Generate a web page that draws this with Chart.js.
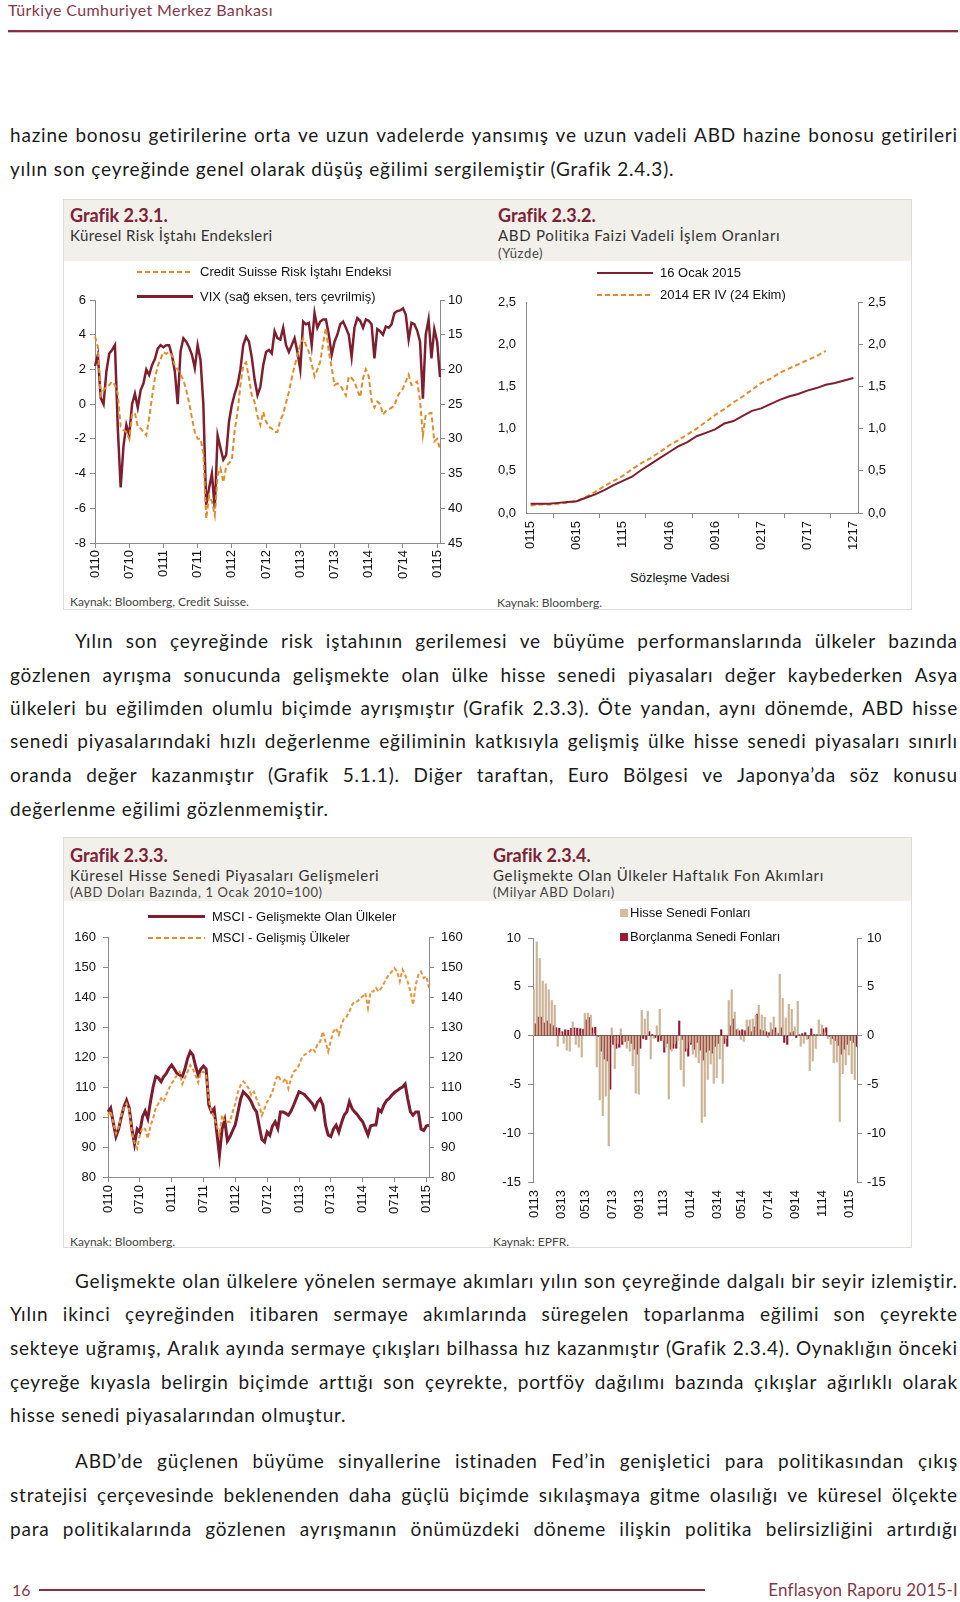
<!DOCTYPE html>
<html lang="tr">
<head>
<meta charset="utf-8">
<title>Enflasyon Raporu 2015-I - Sayfa 16</title>
<script src="https://cdn.jsdelivr.net/npm/chart.js@4.4.1/dist/chart.umd.min.js"></script>
<style>
  html, body { margin: 0; padding: 0; background: #fff; }
  #page { position: relative; width: 960px; height: 1602px; overflow: hidden; font-family: Lato, "Open Sans", sans-serif; color: #1b1b1b; }
  .txt { position: absolute; left: 10px; width: 948px; height: 24px; font-size: 19px; line-height: 24px; letter-spacing: 0.8px; white-space: nowrap; }
  .txt.indent { left: 75px; width: 883px; }
  .box { position: absolute; left: 63px; width: 849px; height: 411px; border: 1px solid #dedcd8; box-sizing: border-box; }
  .band { position: absolute; left: 0; top: 0; right: 0; height: 61px; background: #f2f0eb; }
  .gtitle { position: absolute; font-size: 18px; font-weight: 700; color: #7b2335; line-height: 22px; white-space: nowrap; }
  .gsub { position: absolute; font-size: 15px; letter-spacing: 0.7px; color: #333; line-height: 18px; white-space: nowrap; }
  .gunit { position: absolute; font-size: 13px; letter-spacing: 0.6px; color: #444; line-height: 16px; white-space: nowrap; }
  .src { position: absolute; font-size: 12px; color: #444; line-height: 14px; white-space: nowrap; }
  .leg { position: absolute; font-family: "Liberation Sans", Arial, sans-serif; font-size: 13px; color: #111; line-height: 16px; white-space: nowrap; }
  .sw { position: absolute; }
  .solid { height: 3px; background: #7d1f2f; }
  .dash { height: 2px; background: repeating-linear-gradient(90deg, #e38b2c 0 5px, transparent 5px 8px); }
  canvas { position: absolute; }
</style>
</head>
<body>
<div id="page">

  <div style="position:absolute;left:8px;top:1px;font-size:16px;line-height:18px;color:#83394a;letter-spacing:0.4px;">Türkiye Cumhuriyet Merkez Bankası</div>
  <div style="position:absolute;left:8px;top:30px;width:950px;height:2px;background:#8b2d40;"></div>
  <div style="position:absolute;left:8px;top:32px;width:950px;height:1px;background:#c9c2c4;"></div>

  <div class="txt" style="top:123px;">hazine bonosu getirilerine orta ve uzun vadelerde yansımış ve uzun vadeli ABD hazine bonosu getirileri</div>
  <div class="txt last" style="top:157px;">yılın son çeyreğinde genel olarak düşüş eğilimi sergilemiştir (Grafik 2.4.3).</div>

  <!-- Grafik 2.3.1 / 2.3.2 -->
  <div class="box" style="top:199px;"><div class="band"></div></div>
  <div class="gtitle" style="left:70px;top:204px;">Grafik 2.3.1.</div>
  <div class="gsub" style="left:70px;top:226px;letter-spacing:0.4px;">Küresel Risk İştahı Endeksleri</div>
  <div class="gtitle" style="left:498px;top:204px;">Grafik 2.3.2.</div>
  <div class="gsub" style="left:498px;top:226px;">ABD Politika Faizi Vadeli İşlem Oranları</div>
  <div class="gunit" style="left:498px;top:245px;">(Yüzde)</div>

  <canvas id="riskChart" width="417" height="325" style="left:63px;top:262px;"></canvas>
  <canvas id="futuresChart" width="430" height="300" style="left:482px;top:262px;"></canvas>

  <div class="sw dash" style="left:137px;top:271px;width:56px;"></div>
  <div class="leg" style="left:200px;top:264px;">Credit Suisse Risk İştahı Endeksi</div>
  <div class="sw solid" style="left:137px;top:295px;width:56px;"></div>
  <div class="leg" style="left:200px;top:289px;">VIX (sağ eksen, ters çevrilmiş)</div>

  <div class="sw solid" style="left:597px;top:272px;width:56px;height:2px;"></div>
  <div class="leg" style="left:660px;top:265px;">16 Ocak 2015</div>
  <div class="sw dash" style="left:597px;top:294px;width:56px;"></div>
  <div class="leg" style="left:660px;top:287px;">2014 ER IV (24 Ekim)</div>

  <div class="leg" style="left:630px;top:570px;">Sözleşme Vadesi</div>
  <div class="src" style="left:70px;top:595px;">Kaynak: Bloomberg, Credit Suisse.</div>
  <div class="src" style="left:497px;top:596px;">Kaynak: Bloomberg.</div>

  <div class="txt indent" style="top:629px;">Yılın son çeyreğinde risk iştahının gerilemesi ve büyüme performanslarında ülkeler bazında</div>
  <div class="txt" style="top:663px;">gözlenen ayrışma sonucunda gelişmekte olan ülke hisse senedi piyasaları değer kaybederken Asya</div>
  <div class="txt" style="top:696px;">ülkeleri bu eğilimden olumlu biçimde ayrışmıştır (Grafik 2.3.3). Öte yandan, aynı dönemde, ABD hisse</div>
  <div class="txt" style="top:729px;">senedi piyasalarındaki hızlı değerlenme eğiliminin katkısıyla gelişmiş ülke hisse senedi piyasaları sınırlı</div>
  <div class="txt" style="top:763px;">oranda değer kazanmıştır (Grafik 5.1.1). Diğer taraftan, Euro Bölgesi ve Japonya’da söz konusu</div>
  <div class="txt last" style="top:797px;">değerlenme eğilimi gözlenmemiştir.</div>

  <!-- Grafik 2.3.3 / 2.3.4 -->
  <div class="box" style="top:837px;"><div class="band" style="height:63px;"></div></div>
  <div class="gtitle" style="left:70px;top:844px;">Grafik 2.3.3.</div>
  <div class="gsub" style="left:70px;top:866px;">Küresel Hisse Senedi Piyasaları Gelişmeleri</div>
  <div class="gunit" style="left:70px;top:884px;">(ABD Doları Bazında, 1 Ocak 2010=100)</div>
  <div class="gtitle" style="left:493px;top:844px;">Grafik 2.3.4.</div>
  <div class="gsub" style="left:493px;top:866px;">Gelişmekte Olan Ülkeler Haftalık Fon Akımları</div>
  <div class="gunit" style="left:493px;top:884px;">(Milyar ABD Doları)</div>

  <canvas id="equityChart" width="417" height="320" style="left:63px;top:900px;"></canvas>
  <canvas id="flowChart" width="430" height="320" style="left:482px;top:900px;"></canvas>

  <div class="sw solid" style="left:148px;top:915px;width:57px;"></div>
  <div class="leg" style="left:212px;top:909px;">MSCI - Gelişmekte Olan Ülkeler</div>
  <div class="sw dash" style="left:148px;top:937px;width:57px;"></div>
  <div class="leg" style="left:212px;top:930px;">MSCI - Gelişmiş Ülkeler</div>

  <div class="sw" style="left:620px;top:909px;width:8px;height:8px;background:#d3bda2;"></div>
  <div class="leg" style="left:630px;top:905px;">Hisse Senedi Fonları</div>
  <div class="sw" style="left:620px;top:933px;width:8px;height:8px;background:#9a1d33;"></div>
  <div class="leg" style="left:630px;top:929px;">Borçlanma Senedi Fonları</div>

  <div class="src" style="left:70px;top:1235px;">Kaynak: Bloomberg.</div>
  <div class="src" style="left:493px;top:1235px;">Kaynak: EPFR.</div>

  <div class="txt indent" style="top:1269px;">Gelişmekte olan ülkelere yönelen sermaye akımları yılın son çeyreğinde dalgalı bir seyir izlemiştir.</div>
  <div class="txt" style="top:1302px;">Yılın ikinci çeyreğinden itibaren sermaye akımlarında süregelen toparlanma eğilimi son çeyrekte</div>
  <div class="txt" style="top:1336px;">sekteye uğramış, Aralık ayında sermaye çıkışları bilhassa hız kazanmıştır (Grafik 2.3.4). Oynaklığın önceki</div>
  <div class="txt" style="top:1370px;">çeyreğe kıyasla belirgin biçimde arttığı son çeyrekte, portföy dağılımı bazında çıkışlar ağırlıklı olarak</div>
  <div class="txt last" style="top:1403px;">hisse senedi piyasalarından olmuştur.</div>

  <div class="txt indent" style="top:1449px;">ABD’de güçlenen büyüme sinyallerine istinaden Fed’in genişletici para politikasından çıkış</div>
  <div class="txt" style="top:1483px;">stratejisi çerçevesinde beklenenden daha güçlü biçimde sıkılaşmaya gitme olasılığı ve küresel ölçekte</div>
  <div class="txt" style="top:1517px;">para politikalarında gözlenen ayrışmanın önümüzdeki döneme ilişkin politika belirsizliğini artırdığı</div>

  <div style="position:absolute;left:12px;top:1580px;font-size:16px;line-height:20px;color:#83394a;">16</div>
  <div style="position:absolute;left:39px;top:1589px;width:666px;height:2px;background:#8b2d40;"></div>
  <div style="position:absolute;right:2px;top:1580px;font-size:17px;line-height:20px;color:#83394a;letter-spacing:0.2px;">Enflasyon Raporu 2015-I</div>
</div>

<script>
// Grafik 2.3.1 - half-monthly points, Jan 2010 .. mid-Jan 2015
const riskTicks = ['0110', '0710', '0111', '0711', '0112', '0712', '0113', '0713', '0114', '0714', '0115'];
const csIndex = [
    3.9, 3.3, 0.5, 0.8, 1.0, 1.1, 1.3, 1.1, 0.6, -1.3, -1.5, -1.6, -2.0, -0.6, -0.5, -1.3, -1.4, -1.6, -1.8, -0.8, 0.4, 1.5, 2.2, 2.6,
    3.0, 2.9, 3.0, 2.8, 2.2, 2.0, 1.7, 1.4, 0.8, 0.1, -0.8, -1.6, -2.0, -2.0, -2.8, -6.6, -5.3, -5.6, -6.4, -4.1, -3.7, -4.5, -3.6, -3.4,
    -3.2, -1.5, -0.45, 1.1, 2.25, 2.4, 1.5, 0.5, 0.1, -0.7, -1.2, -0.45, -1.0, -1.3, -1.4, -1.6, -1.6, -0.9, -0.6, 0.1, 0.7, 1.5, 2.2, 2.8,
    3.4, 3.8, 3.4, 3.0, 2.3, 1.6, 2.0, 2.45, 3.5, 4.4, 3.0, 2.1, 1.1, 1.2, 1.1, 0.8, 0.5, 1.6, 1.5, 1.3, 0.8, 0.4, 1.5, 2.0,
    1.6, 0.2, -0.2, 0.15, 0.0, -0.6, -0.4, -0.3, -0.2, -0.1, 0.4, 0.7, 0.9, 1.3, 1.7, 1.1, 1.2, 1.3, 0.2, -1.8, -0.6, -0.55, -0.5, -2.15,
    -2.0, -2.6
];
const vixIndex = [
    19.5, 17.9, 24.1, 25, 20.3, 17.7, 17.2, 16.5, 28.5, 37, 31, 28, 29.5, 25, 23.5, 25.5, 23, 22, 20, 20.8, 19.4, 18.5, 17, 16.5,
    16.8, 16.5, 16.5, 18, 20.3, 25, 17.4, 15.5, 16, 16.8, 17.9, 19.8, 16.5, 18.6, 25, 39.5, 37.1, 35, 40, 29.5, 31.3, 33, 32.3, 27.5,
    25.1, 23.5, 22.2, 20, 16.5, 15.3, 16, 18.3, 21.5, 23.7, 22.5, 19.4, 17.5, 17.2, 17.7, 14.5, 15.5, 15.7, 14, 16.5, 17.5, 16.5, 15.5, 17.5,
    20, 13.1, 13.5, 13.3, 16.5, 11.9, 14, 13.1, 12.8, 12.8, 15, 17.9, 16, 15, 13.5, 13.1, 14, 15, 18.2, 14, 12.6, 13, 14, 12.8,
    13, 13.5, 18.4, 14.2, 14.5, 15, 13.8, 14, 13.5, 11.9, 11.6, 11.5, 11.2, 12.1, 15.7, 13.3, 13.5, 14.4, 16, 24.2, 15, 12.8, 18.4, 14.2,
    16, 21.1
];

// Grafik 2.3.2 - monthly contracts
const vadeLabels = ['0115', '0215', '0315', '0415', '0515', '0615', '0715', '0815', '0915', '1015', '1115', '1215',
    '0116', '0216', '0316', '0416', '0516', '0616', '0716', '0816', '0916', '1016', '1116', '1216',
    '0117', '0217', '0317', '0417', '0517', '0617', '0717', '0817', '0917', '1017', '1117', '1217'];
const ocak2015 = [0.11, 0.11, 0.11, 0.12, 0.13, 0.14, 0.18, 0.22, 0.27, 0.33, 0.38, 0.43, 0.51, 0.58, 0.65, 0.72, 0.79, 0.84,
    0.91, 0.95, 0.99, 1.06, 1.09, 1.15, 1.21, 1.24, 1.29, 1.34, 1.38, 1.41, 1.45, 1.48, 1.52, 1.54, 1.57, 1.60];
const erIV2014 = [0.09, 0.10, 0.10, 0.11, 0.12, 0.14, 0.19, 0.25, 0.32, 0.38, 0.44, 0.52, 0.59, 0.65, 0.72, 0.80, 0.86, 0.93,
    1.00, 1.08, 1.16, 1.23, 1.31, 1.38, 1.46, 1.54, 1.59, 1.66, 1.71, 1.76, 1.81, 1.86, 1.92, null, null, null];

// Grafik 2.3.3 - half-monthly, 1 Ocak 2010 = 100
const equityTicks = riskTicks;
const emIndex = [
    101.7, 103, 98, 93.5, 96, 100, 103.4, 105.6, 103, 96, 91, 96, 95, 100, 102, 99.5, 105, 110, 113.5, 113, 111.8, 113.5, 114.5, 116.2,
    117.3, 116, 114.5, 114, 113.5, 116, 119.5, 121.8, 120.7, 117, 114, 116, 117, 116, 104, 101.7, 102.8, 95, 87.2, 96, 99, 92, 93.5, 95.5,
    97.5, 101.7, 106, 108.4, 107.5, 106.5, 105.1, 103, 101.7, 97, 92.5, 91.7, 95, 93.9, 97, 98.4, 96.2, 101.7, 101.7, 101.2, 100.6, 102, 104, 106.2,
    108.4, 108, 107.5, 106.5, 105.5, 104.5, 102.8, 105, 106, 104, 97.3, 94, 93.5, 96, 97.3, 95, 98, 100.6, 101.7, 105.1, 102.8, 101.7, 100.8, 99.5,
    98.4, 96.2, 94, 97, 97.3, 97.3, 102.5, 101.7, 104, 105.5, 106.2, 107.3, 108.2, 108.8, 109.5, 110, 111, 106, 101.7, 100.6, 101.7, 101.7, 96, 95.5,
    97, 97.3
];
const dmIndex = [
    100.6, 102, 98, 94.5, 96.5, 100.5, 103, 104.5, 102.5, 95, 91.5, 89.5, 94, 96.5, 96, 92.8, 97, 99.5, 103, 104.5, 106.2, 105.1, 107.5, 109.5,
    111.2, 112.5, 114, 115.1, 111, 113, 115.1, 117.3, 116, 114, 111.5, 115, 115.1, 114, 106, 101.7, 100, 97, 93.9, 100.6, 98.4, 98.4, 98.4, 101.7,
    104.5, 108.4, 110.6, 111.8, 111, 109.5, 107.3, 108.4, 106, 104, 100.6, 102.8, 105.1, 106.5, 108.4, 111.8, 114, 112.5, 111.8, 112.9, 109.5, 112.9, 115.1, 115.8,
    117.3, 119.6, 120.7, 121.3, 121.8, 122.9, 121.8, 124.5, 125.1, 128.5, 125.1, 121.8, 125.5, 128.5, 129.6, 127.4, 130.7, 132.9, 133.5, 135.2, 137.4, 138.5, 138.5, 139.5,
    140.2, 141.3, 136.3, 141.8, 141.8, 143, 141.8, 143, 144.6, 146.3, 147.5, 148.5, 149.6, 148.5, 145.2, 149.1, 147.4, 145, 141.8, 137.4, 144.1, 147.4, 148.5, 146.3,
    146.9, 143
];

// Grafik 2.3.4 - weekly flows, first week of Jan 2013 onwards
const fundTicks = ['0113', '0313', '0513', '0713', '0913', '1113', '0114', '0314', '0514', '0714', '0914', '1114', '0115'];
const fundTickWeeks = [0, 9, 17, 26, 35, 43, 52, 61, 69, 78, 87, 96, 105];
const hisseFlows = [
    4.7, 9.6, 7.9, 5.6, 5.3, 4.7, 3.6, 3.1, -1.1, 0.3, -0.8, -1.5, -1.6, 1.4, -0.9, -1.2, -2.2, 2.3, 2.3, 2.1,
    0.2, -3.2, -6.6, -8.2, -6.2, -11.3, 0.8, -3.4, -0.8, 0.7, -0.6, -1.3, -1.6, -3.1, -5.9, -6.0, 2.6, 1.7, 2.5, -2.4,
    -0.3, 1.0, 2.7, -0.5, -1.2, -6.5, -1.6, -0.8, -0.5, -3.5, -5.2, -1.3, -0.7, -1.9, -2.2, -2.8, -8.9, -8.3, -4.5, -2.9,
    -4.9, -4.3, -2.4, -4.9, -0.3, 3.6, 4.7, 2.4, 0.7, -0.4, -0.6, 1.6, 1.6, 1.7, 2.1, 3.1, 2.1, 1.9, -0.2, 1.3,
    1.9, 0.3, 6.3, 3.8, 1.8, 3.2, 2.7, 0.9, 3.5, -1.1, -0.8, -0.4, -3.6, -2.6, -1.3, 1.6, 1.1, 0.3, -0.3, -0.9,
    -2.8, -2.7, -8.8, -3.9, -3.0, -2.0, -3.9, -4.5
];
const borcFlows = [
    1.2, 1.9, 1.9, 1.3, 1.5, 1.2, 1.0, 0.8, 0.75, 0.4, 0.6, 0.55, 0.75, 0.8, 0.75, 0.7, 0.65, 1.6, 1.85, 0.8,
    0.85, -0.1, -1.6, -2.4, -2.6, -5.5, -0.9, -1.3, -1.2, -0.9, -0.6, -0.5, -0.8, -1.4, -1.9, -1.3, -0.3, -0.4, 0.4, 0.1,
    -0.2, -0.6, -0.5, -1.7, -0.8, -1.4, -1.3, -1.3, 1.5, -0.4, -1.6, -2.1, -0.9, -1.4, -0.7, -1.5, -2.5, -1.7, -1.5, -1.8,
    -1.1, -0.8, 0.6, -0.8, -1.1, 1.0, 1.7, 0.6, 0.5, 0.6, 0.5, 0.9, 0.4, 0.9, 2.2, 0.6, 0.5, 0.4, 0.3, 0.6,
    0.8, 0.2, 0.8, -0.7, -0.9, 0.3, 0.4, -0.2, 0.1, 0.2, 0.3, -0.3, 0.7, 0.1, 0.1, 0.1, 0.7, 0.8, -0.1, -0.3,
    -0.5, -1.0, -1.9, -1.4, -0.9, -0.5, -0.7, -1.1
];

// Justify every full text line word by word, so a line never wraps
document.querySelectorAll('.txt:not(.last)').forEach(line => {
    const words = line.textContent.trim().split(/\s+/);
    line.textContent = '';
    words.forEach(w => {
        const span = document.createElement('span');
        span.textContent = w;
        line.appendChild(span);
    });
    line.style.display = 'flex';
    line.style.justifyContent = 'space-between';
    line.style.columnGap = '4px';
    let ls = parseFloat(getComputedStyle(line).letterSpacing) || 0;
    while (line.scrollWidth > line.clientWidth + 1 && ls > -0.6) {
        ls -= 0.1;
        line.style.letterSpacing = ls + 'px';
    }
});

const axisGray = '#8a8a8a';
const maroon = '#7d1f2f';
const orange = '#e38b2c';

Chart.defaults.font.family = "'Liberation Sans', Arial, sans-serif";
Chart.defaults.font.size = 13;
Chart.defaults.color = '#111';
Chart.defaults.animation = false;

const noPlugins = { legend: { display: false }, tooltip: { enabled: false } };

// Vertical value axis with outside tick marks, fixed width
function valueAxis(position, min, max, step, width, pad, extra) {
    const axis = {
        position: position,
        min: min,
        max: max,
        border: { display: true, color: axisGray },
        grid: { drawOnChartArea: false, drawTicks: true, tickLength: 5, color: axisGray },
        ticks: { stepSize: step, padding: pad },
        afterFit: function(scale) { scale.width = width; }
    };
    return Object.assign(axis, extra || {});
}

// Grafik 2.3.1
new Chart(document.getElementById('riskChart'), {
    type: 'line',
    data: {
        labels: csIndex.map((v, i) => i),
        datasets: [{
            label: 'Credit Suisse Risk İştahı Endeksi',
            data: csIndex,
            yAxisID: 'y',
            borderColor: orange,
            borderWidth: 2,
            borderDash: [5, 3],
            pointRadius: 0
        }, {
            label: 'VIX (sağ eksen, ters çevrilmiş)',
            data: vixIndex,
            yAxisID: 'y1',
            borderColor: maroon,
            borderWidth: 2.5,
            pointRadius: 0
        }]
    },
    options: {
        responsive: false,
        layout: { padding: { top: 38, left: 0, right: 0, bottom: 0 } },
        plugins: noPlugins,
        scales: {
            x: {
                border: { display: true, color: axisGray },
                grid: { drawOnChartArea: false, tickLength: 5, color: axisGray },
                ticks: {
                    autoSkip: false, minRotation: 90, maxRotation: 90, padding: 2,
                    callback: function(v, i) { return i % 12 === 0 ? riskTicks[i / 12] : null; }
                },
                afterFit: function(scale) { scale.height = 44; }
            },
            y: valueAxis('left', -8, 6, 2, 32, 4),
            y1: valueAxis('right', 10, 45, 5, 40, 3, { reverse: true })
        }
    }
});

// Grafik 2.3.2
new Chart(document.getElementById('futuresChart'), {
    type: 'line',
    data: {
        labels: vadeLabels,
        datasets: [{
            label: '16 Ocak 2015',
            data: ocak2015,
            borderColor: maroon,
            borderWidth: 2,
            pointRadius: 0
        }, {
            label: '2014 ER IV (24 Ekim)',
            data: erIV2014,
            borderColor: orange,
            borderWidth: 2,
            borderDash: [5, 3],
            pointRadius: 0
        }]
    },
    options: {
        responsive: false,
        layout: { padding: { top: 40 } },
        plugins: noPlugins,
        scales: {
            x: {
                offset: true,
                border: { display: true, color: axisGray },
                grid: { offset: true, drawOnChartArea: false, tickLength: 5, color: axisGray },
                ticks: {
                    autoSkip: false, minRotation: 90, maxRotation: 90, padding: 3,
                    callback: function(v, i) { return i % 5 === 0 ? vadeLabels[i] : null; }
                },
                afterFit: function(scale) { scale.height = 49; }
            },
            y: valueAxis('left', 0, 2.5, 0.5, 44, 2, {
                grid: { drawOnChartArea: false, drawTicks: false, color: axisGray },
                ticks: { stepSize: 0.5, padding: 10, callback: v => v.toFixed(1).replace('.', ',') }
            }),
            y1: valueAxis('right', 0, 2.5, 0.5, 54, 5, {
                ticks: { stepSize: 0.5, padding: 5, callback: v => v.toFixed(1).replace('.', ',') }
            })
        }
    }
});

// Grafik 2.3.3
new Chart(document.getElementById('equityChart'), {
    type: 'line',
    data: {
        labels: dmIndex.map((v, i) => i),
        datasets: [{
            label: 'MSCI - Gelişmiş Ülkeler',
            data: dmIndex,
            borderColor: '#e8923a',
            borderWidth: 2,
            borderDash: [4, 2.5],
            pointRadius: 0
        }, {
            label: 'MSCI - Gelişmekte Olan Ülkeler',
            data: emIndex,
            borderColor: '#7c1c2e',
            borderWidth: 3,
            pointRadius: 0
        }]
    },
    options: {
        responsive: false,
        layout: { padding: { top: 37 } },
        plugins: noPlugins,
        scales: {
            x: {
                border: { display: true, color: axisGray },
                grid: { drawOnChartArea: false, tickLength: 5, color: axisGray },
                ticks: {
                    autoSkip: false, minRotation: 90, maxRotation: 90, padding: 3,
                    callback: function(v, i) { return i % 12 === 0 ? equityTicks[i / 12] : null; }
                },
                afterFit: function(scale) { scale.height = 43; }
            },
            y: valueAxis('left', 80, 160, 10, 45, 7),
            y1: valueAxis('right', 80, 160, 10, 51, 7)
        }
    }
});

// Grafik 2.3.4
new Chart(document.getElementById('flowChart'), {
    type: 'bar',
    data: {
        labels: hisseFlows.map((v, i) => i),
        datasets: [{
            label: 'Hisse Senedi Fonları',
            data: hisseFlows,
            backgroundColor: '#cbb395',
            barPercentage: 1,
            categoryPercentage: 1
        }, {
            label: 'Borçlanma Senedi Fonları',
            data: borcFlows,
            backgroundColor: '#921a30',
            barPercentage: 1,
            categoryPercentage: 1
        }]
    },
    options: {
        responsive: false,
        layout: { padding: { top: 38 } },
        plugins: noPlugins,
        scales: {
            x: {
                border: { display: false },
                grid: { drawOnChartArea: false, tickLength: 5, color: 'rgba(0,0,0,0)' },
                ticks: {
                    autoSkip: false, minRotation: 90, maxRotation: 90, padding: 3,
                    callback: function(v, i) {
                        const k = fundTickWeeks.indexOf(i);
                        return k >= 0 ? fundTicks[k] : null;
                    }
                },
                afterFit: function(scale) { scale.height = 38; }
            },
            y: valueAxis('left', -15, 10, 5, 51, 7, {
                grid: {
                    drawOnChartArea: true, drawTicks: true, tickLength: 5, tickColor: axisGray,
                    color: ctx => (ctx.tick && ctx.tick.value === 0 ? '#555' : 'rgba(0,0,0,0)')
                }
            }),
            y1: valueAxis('right', -15, 10, 5, 55, 5)
        }
    }
});
</script>
</body>
</html>
